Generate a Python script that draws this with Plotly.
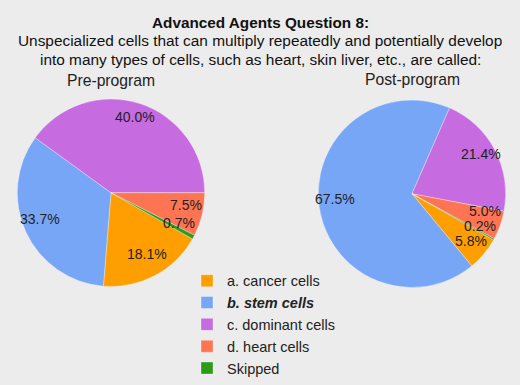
import math
import plotly.graph_objects as go

categories = ["a. cancer cells", "<b><i>b. stem cells</i></b>", "c. dominant cells", "d. heart cells", "Skipped"]
pre_values = [18.1, 33.7, 40.0, 7.5, 0.7]
post_values = [5.8, 67.5, 21.4, 5.0, 0.2]
pie_titles = ["Pre-program", "Post-program"]
title_lines = ["Advanced Agents Question 8:",
               "Unspecialized cells that can multiply repeatedly and potentially develop",
               "into many types of cells, such as heart, skin liver, etc., are called:"]
colors = ["#FF9E00", "#77A6F7", "#C66BE0", "#FF7452", "#2E9A1A"]

W, H = 520, 385
FONT = "Liberation Sans, Arial, sans-serif"
ROTATION = 119.5  # clockwise from 12 o'clock, where first slice starts
LABEL_R = 0.80
LABEL_FS = 14
MIN_GAP = 15.5
PIE_DY = 5  # nudge of the pie discs relative to the text layer

pies = [dict(values=pre_values, cx=111, cy=194.5, r=97, title=pie_titles[0], ty=83.5),
        dict(values=post_values, cx=412, cy=195.5, r=97, title=pie_titles[1], ty=82)]

fig = go.Figure()
annotations = []
for i, p in enumerate(pies):
    cx, cy, r = p["cx"], p["cy"], p["r"]
    dcy = cy + PIE_DY
    fig.add_trace(go.Pie(
        values=p["values"], labels=categories, sort=False,
        direction="clockwise", rotation=ROTATION,
        domain=dict(x=[(cx - r) / W, (cx + r) / W], y=[1 - (dcy + r) / H, 1 - (dcy - r) / H]),
        marker=dict(colors=colors, line=dict(color="rgba(255,255,255,0.55)", width=0.6)),
        textinfo="none", hoverinfo="label+value",
        showlegend=(i == 0),
    ))
    # percentage labels computed from the values (along each slice's mid-angle)
    total = sum(p["values"])
    start = ROTATION
    pts = []
    for v in p["values"]:
        sweep = 360 * v / total
        a = math.radians(start + sweep / 2)
        pts.append([cx + LABEL_R * r * math.sin(a), cy - LABEL_R * r * math.cos(a), v])
        start += sweep
    # simple vertical de-overlap of neighbouring labels
    for _ in range(40):
        for j in range(len(pts)):
            for k in range(j + 1, len(pts)):
                a_, b_ = pts[j], pts[k]
                if abs(a_[0] - b_[0]) < 40 and abs(a_[1] - b_[1]) < MIN_GAP:
                    push = (MIN_GAP - abs(a_[1] - b_[1])) / 2
                    if a_[1] <= b_[1]:
                        a_[1] -= push; b_[1] += push
                    else:
                        a_[1] += push; b_[1] -= push
    for px, py, v in pts:
        annotations.append(dict(
            text=f"{v:.1f}%", x=px / W, y=1 - py / H, xref="paper", yref="paper",
            showarrow=False, xanchor="center", yanchor="middle",
            font=dict(family=FONT, size=LABEL_FS, color="#222222"),
        ))
    annotations.append(dict(
        text=p["title"], x=cx / W, y=1 - p["ty"] / H, xref="paper", yref="paper",
        showarrow=False, xanchor="center", yanchor="middle",
        font=dict(family=FONT, size=15.7, color="#222222"),
    ))

title_y = [23.5, 42, 62]
for j, (line, ty) in enumerate(zip(title_lines, title_y)):
    annotations.append(dict(
        text=f"<b>{line}</b>" if j == 0 else line,
        x=0.5, y=1 - ty / H, xref="paper", yref="paper",
        showarrow=False, xanchor="center", yanchor="middle",
        font=dict(family=FONT, size=15.3 if j == 0 else 15.4, color="#111111"),
    ))

fig.update_layout(
    width=W, height=H,
    margin=dict(l=0, r=0, t=0, b=0),
    paper_bgcolor="#ECECEC",
    plot_bgcolor="#ECECEC",
    annotations=annotations,
    legend=dict(
        x=187 / W, xanchor="left", y=1 - 274 / H, yanchor="top",
        font=dict(family=FONT, size=14.5, color="#222"),
        bgcolor="rgba(0,0,0,0)", itemclick=False,
    ),
)

fig.write_html("out.html", config={"displayModeBar": False},
               post_script="document.body.style.margin='0';document.body.style.overflow='hidden';")
